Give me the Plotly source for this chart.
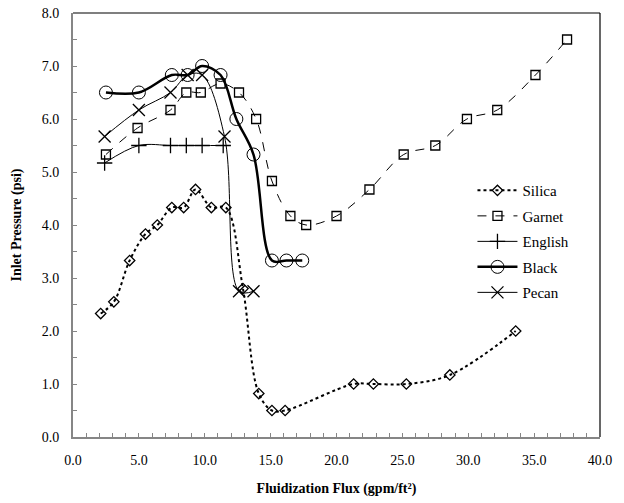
import plotly.graph_objects as go

silica_x = [2.1, 3.1, 4.3, 5.5, 6.4, 7.5, 8.4, 9.3, 10.5, 11.6, 12.9, 14.1, 15.1, 16.1, 21.3, 22.8, 25.3, 28.6, 33.6]
silica_y = [2.33, 2.55, 3.33, 3.83, 4.0, 4.33, 4.33, 4.67, 4.33, 4.33, 2.8, 0.82, 0.5, 0.5, 1.0, 1.0, 1.0, 1.17, 2.0]

garnet_x = [2.5, 4.9, 7.4, 8.6, 9.7, 11.2, 12.6, 13.9, 15.1, 16.5, 17.7, 20.0, 22.5, 25.1, 27.5, 29.9, 32.2, 35.1, 37.5]
garnet_y = [5.33, 5.83, 6.17, 6.5, 6.5, 6.67, 6.5, 6.0, 4.83, 4.17, 4.0, 4.17, 4.67, 5.33, 5.5, 6.0, 6.17, 6.83, 7.5]

english_x = [2.4, 5.0, 7.4, 8.6, 9.8, 11.4]
english_y = [5.17, 5.5, 5.5, 5.5, 5.5, 5.5]

black_x = [2.5, 5.0, 7.5, 8.7, 9.8, 11.2, 12.4, 13.7, 15.1, 16.2, 17.4]
black_y = [6.5, 6.5, 6.83, 6.83, 7.0, 6.83, 6.0, 5.33, 3.33, 3.33, 3.33]

pecan_x = [2.4, 5.0, 7.4, 8.7, 9.8, 11.5, 12.6, 13.7]
pecan_y = [5.67, 6.17, 6.5, 6.83, 6.83, 5.67, 2.75, 2.75]

FONT = "Times New Roman, Liberation Serif, serif"

fig = go.Figure()

def add(name, x, y, dash, width, symbol, size, mlw):
    fig.add_trace(go.Scatter(
        x=x, y=y, name=name, mode="lines+markers", legendgroup=name,
        line=dict(color="black", width=width, dash=dash, shape="spline", smoothing=1.0),
        marker=dict(symbol=symbol, size=size, color="black",
                    line=dict(color="black", width=mlw)),
    ))

add("Silica", silica_x, silica_y, "dot", 2, "diamond-open", 8, 1.3)
add("Garnet", garnet_x, garnet_y, "dash", 1, "square-open", 9, 1.3)
add("English", english_x, english_y, "solid", 1, "cross-thin", 11, 1.3)
add("Black", black_x, black_y, "solid", 2.5, "circle-open", 13, 1)
add("Pecan", pecan_x, pecan_y, "solid", 1, "x-thin", 12, 1.3)

axis_common = dict(
    showgrid=False, zeroline=False, showline=True, linecolor="#868686", linewidth=2,
    ticks="inside", ticklen=4, tickcolor="#868686", tickwidth=1, automargin=False,
    ticklabeloverflow="allow", ticklabelstandoff=9,
    tickformat=".1f", tickfont=dict(family=FONT, size=14, color="black"),
)

fig.update_layout(
    width=624, height=503,
    margin=dict(l=73, r=24, t=13, b=66),
    paper_bgcolor="white", plot_bgcolor="white",
    font=dict(family=FONT, color="black"),
    xaxis=dict(range=[0, 40], dtick=5, tick0=0,
               minor=dict(dtick=1, ticks="inside", ticklen=4, tickcolor="#868686"),
               title=dict(text="<b>Fluidization Flux (gpm/ft²)</b>", font=dict(family=FONT, size=14), standoff=16),
               **axis_common),
    yaxis=dict(range=[0, 8], dtick=1, tick0=0,
               minor=dict(dtick=0.5, ticks="inside", ticklen=4, tickcolor="#868686"),
               title=dict(text="<b>Inlet Pressure (psi)</b>", font=dict(family=FONT, size=14), standoff=17),
               **axis_common),
    legend=dict(x=0.758, y=0.62, xanchor="left", yanchor="top",
                bgcolor="rgba(0,0,0,0)", font=dict(family=FONT, size=15),
                tracegroupgap=3, itemwidth=40),
    showlegend=True,
)

fig.add_shape(type="line", xref="paper", yref="paper", x0=0, x1=1, y0=1, y1=1,
              line=dict(color="black", width=1.2))
fig.add_shape(type="line", xref="paper", yref="paper", x0=1, x1=1, y0=0, y1=1,
              line=dict(color="black", width=1.2))

fig.write_html("out.html", config={"displayModeBar": False},
               post_script="document.body.style.margin='0';document.body.style.overflow='hidden';")
